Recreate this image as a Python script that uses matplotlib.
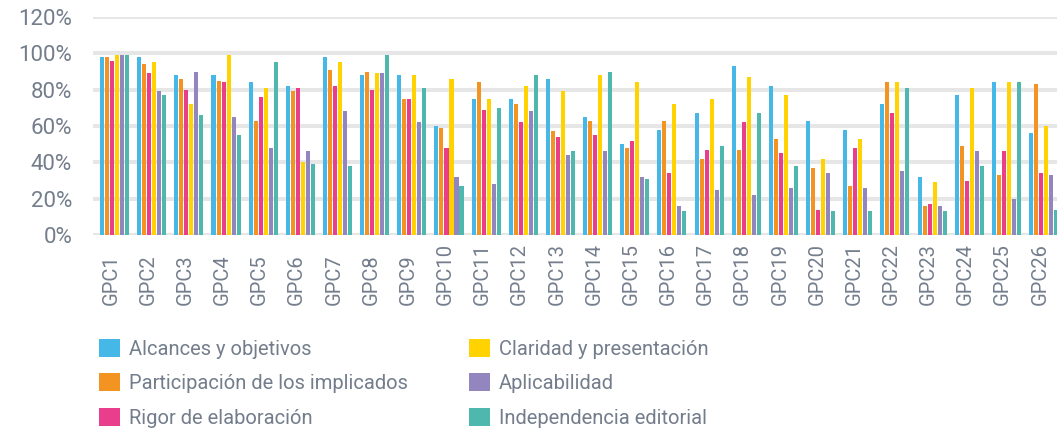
import numpy as np
import matplotlib
matplotlib.use("Agg")
import matplotlib.pyplot as plt
from matplotlib.patches import Patch

# Valores por guía (porcentaje) para cada dominio AGREE II
guias = ["GPC%d" % i for i in range(1, 27)]

alcances = [98, 98, 88, 88, 84, 82, 98, 88, 88, 60, 75, 75, 86, 65, 50, 58, 67, 93, 82, 63, 58, 72, 32, 77, 84, 56]
participacion = [98, 94, 86, 85, 63, 79, 91, 90, 75, 59, 84, 72, 57, 63, 48, 63, 42, 47, 53, 37, 27, 84, 16, 49, 33, 83]
rigor = [96, 89, 80, 84, 76, 81, 82, 80, 75, 48, 69, 62, 54, 55, 52, 34, 47, 62, 45, 14, 48, 67, 17, 30, 46, 34]
claridad = [99, 95, 72, 99, 81, 40, 95, 89, 88, 86, 75, 82, 79, 88, 84, 72, 75, 87, 77, 42, 53, 84, 29, 81, 84, 60]
aplicabilidad = [99, 79, 90, 65, 48, 46, 68, 89, 62, 32, 28, 68, 44, 46, 32, 16, 25, 22, 26, 34, 26, 35, 16, 46, 20, 33]
independencia = [99, 77, 66, 55, 95, 39, 38, 99, 81, 27, 70, 88, 46, 90, 31, 13, 49, 67, 38, 13, 13, 81, 13, 38, 84, 14]

series = [alcances, participacion, rigor, claridad, aplicabilidad, independencia]
nombres = ["Alcances y objetivos", "Participación de los implicados", "Rigor de elaboración",
           "Claridad y presentación", "Aplicabilidad", "Independencia editorial"]
colores = ["#45b8e8", "#f39321", "#e83e8c", "#ffd200", "#9386bf", "#4fb8ae"]

gris = "#737d8c"
plt.rcParams["font.family"] = ["Roboto", "DejaVu Sans"]

fig = plt.figure(figsize=(10.63, 4.32), dpi=100)
ax = fig.add_axes([93 / 1063, 1 - 235 / 432, 964 / 1063, 218 / 432])

x = np.arange(len(guias))
paso = 0.1346
ancho = 0.108
for i, (vals, col) in enumerate(zip(series, colores)):
    ax.bar(x + (i - 2.5) * paso, vals, width=ancho, color=col, zorder=3)

ax.set_xlim(-0.579, 25.36)
ax.set_ylim(0, 120)
ax.set_yticks(range(0, 121, 20))
ax.set_yticklabels(["%d%%" % v for v in range(0, 121, 20)], fontsize=16, color=gris)
ax.grid(axis="y", color="#e6e6e6", linewidth=2.9, zorder=0)
ax.tick_params(axis="y", length=0, pad=15)
for s in ax.spines.values():
    s.set_visible(False)

# etiquetas del eje x: comienzan abajo y se leen hacia arriba
ax.set_xticks([])
for xi, g in zip(x, guias):
    ax.text(xi - 0.1, -0.32, g, transform=ax.get_xaxis_transform(), rotation=90,
            rotation_mode="anchor", ha="left", va="center", fontsize=14.5,
            color=gris)

handles = [Patch(facecolor=c, edgecolor="none") for c in colores]
leg = fig.legend(handles, nombres, ncol=2, loc="upper left",
                 bbox_to_anchor=(99 / 1063, 1 - 339 / 432), frameon=False,
                 fontsize=14.5, handlelength=1.05, handleheight=1.0,
                 handletextpad=0.45, labelspacing=0.72, columnspacing=3.0,
                 borderpad=0, borderaxespad=0)
for t in leg.get_texts():
    t.set_color(gris)

fig.savefig("out.png", dpi=100)
